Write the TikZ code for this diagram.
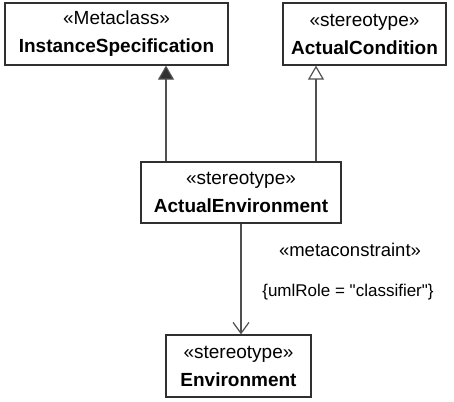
\documentclass[tikz,border=0pt]{standalone}
\usepackage{fontspec}
\setmainfont{Liberation Sans}
\usetikzlibrary{arrows.meta}
\definecolor{linec}{HTML}{505050}
\definecolor{boxc}{HTML}{303030}
\tikzset{
  umlbox/.style={draw=boxc, line width=1.3pt, fill=white, align=center, inner sep=0pt,
    font=\fontsize{19}{28}\selectfont},
  gen/.style={draw=linec, line width=1.2pt, -{Triangle[width=16pt,length=14pt,fill=boxc]}},
  real/.style={draw=linec, line width=1.2pt, -{Triangle[open,width=16pt,length=14pt,line width=1.2pt]}},
  dep/.style={draw=linec, line width=1.2pt, -{Straight Barb[length=11pt,width=16pt,line width=1.2pt]}},
  lbl/.style={inner sep=0pt}
}
\begin{document}
\begin{tikzpicture}[x=1pt,y=-1pt]
\useasboundingbox (0,0) rectangle (454,401);
\node[umlbox, minimum width=223pt, minimum height=62pt] (inst) at (116.5,34) {«Metaclass»\\\textbf{InstanceSpecification}};
\node[umlbox, minimum width=163pt, minimum height=62pt] (cond) at (364.5,34) {«stereotype»\\\textbf{ActualCondition}};
\node[umlbox, minimum width=200pt, minimum height=61pt] (env) at (241,192.5) {«stereotype»\\\textbf{ActualEnvironment}};
\node[umlbox, minimum width=145pt, minimum height=62pt] (envt) at (238.5,366) {«stereotype»\\\textbf{Environment}};
\coordinate (gx) at (166,0);
\coordinate (rx) at (316,0);
\coordinate (dx) at (241,0);
\draw[gen] (env.north -| gx) -- (inst.south -| gx);
\draw[real] (env.north -| rx) -- (cond.south -| rx);
\draw[dep] (env.south -| dx) -- (envt.north -| dx);
\node[lbl, font=\fontsize{18.5}{22}\selectfont] (mc) at (350,250) {«metaconstraint»};
\node[lbl, font=\fontsize{17}{20}\selectfont] (role) at (348,292) {\{umlRole = \textquotedbl classifier\textquotedbl\}};
\end{tikzpicture}
\end{document}
